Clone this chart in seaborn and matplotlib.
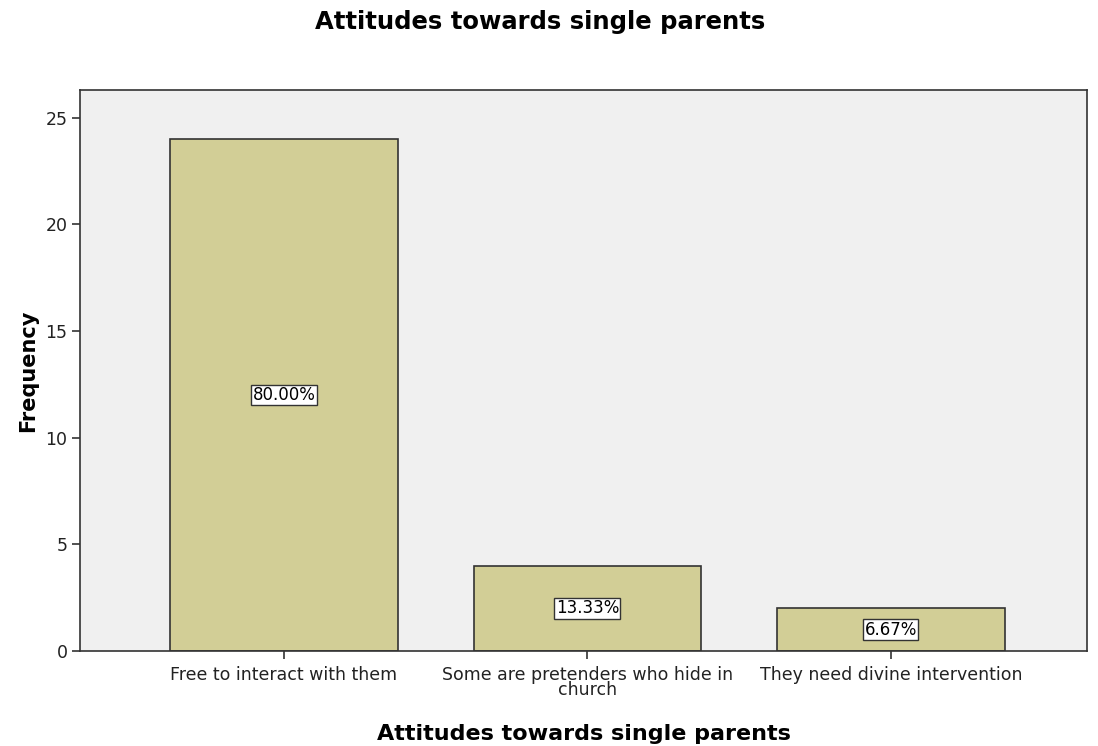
import matplotlib
matplotlib.use("Agg")
import matplotlib.pyplot as plt
import seaborn as sns
import pandas as pd

categories = ["Free to interact with them",
              "Some are pretenders who hide in\nchurch",
              "They need divine intervention"]
frequencies = [24, 4, 2]
percent_labels = ["80.00%", "13.33%", "6.67%"]
y_ticks = [0, 5, 10, 15, 20, 25]

sns.set_theme(style="white")
plt.rcParams['font.family'] = ['DejaVu Sans']

df = pd.DataFrame({"cat": categories, "freq": frequencies})

fig = plt.figure(figsize=(10.98, 7.46), dpi=100)
ax = fig.add_axes([0.0729, 0.1273, 0.9171, 0.7521])
ax.set_facecolor("#F0F0F0")

sns.barplot(data=df, x="cat", y="freq", color="#D2CE96", width=0.75,
            edgecolor="#333333", linewidth=1.2, saturation=1, ax=ax)

for i, (v, lab) in enumerate(zip(frequencies, percent_labels)):
    ax.text(i, v / 2, lab, ha="center", va="center", fontsize=12, color="black",
            bbox=dict(boxstyle="square,pad=0.08", facecolor="white",
                      edgecolor="#333333", linewidth=1.0))

ax.set_xlim(-0.672, 2.646)
ax.set_ylim(0, 26.3)
ax.set_yticks(y_ticks)
ax.set_yticklabels([str(t) for t in y_ticks], fontsize=12.5)
ax.tick_params(axis="x", labelsize=12.5, length=6, width=1.2, color="#333333", bottom=True, pad=5)
ax.tick_params(axis="y", length=6, width=1.2, color="#333333", left=True, pad=3)
for lab in ax.get_xticklabels():
    lab.set_linespacing(0.78)
    lab.set_color("#222222")
for lab in ax.get_yticklabels():
    lab.set_color("#222222")

for s in ax.spines.values():
    s.set_color("#333333")
    s.set_linewidth(1.2)

ax.set_xlabel("Attitudes towards single parents", fontsize=16, fontweight="bold",
              labelpad=18, color="black")
ax.set_ylabel("Frequency", fontsize=15, fontweight="bold", labelpad=5, color="black")
fig.text(0.492, 0.97, "Attitudes towards single parents", fontsize=17.5,
         fontweight="bold", ha="center", va="center", color="black")

fig.savefig("out.png", dpi=100, facecolor="white")
